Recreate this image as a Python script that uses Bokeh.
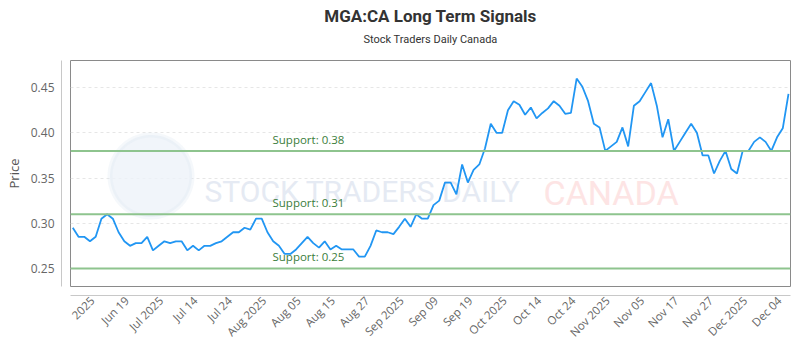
import math
import numpy as np
from bokeh.plotting import figure
from bokeh.models import (Range1d, FixedTicker, LinearAxis, Title, Label, Span,
                          PolyAnnotation, NumeralTickFormatter)
from bokeh.embed import file_html
from bokeh.resources import INLINE

# ---------------- data ----------------
prices = [
    0.295, 0.285, 0.285, 0.28, 0.285, 0.305, 0.31, 0.305, 0.29, 0.28,
    0.275, 0.278, 0.278, 0.285, 0.27, 0.275, 0.28, 0.278, 0.28, 0.28,
    0.27, 0.275, 0.27, 0.275, 0.275, 0.278, 0.28, 0.285, 0.29, 0.29,
    0.295, 0.293, 0.305, 0.305, 0.29, 0.28, 0.275, 0.266, 0.266, 0.271,
    0.278, 0.285, 0.278, 0.273, 0.28, 0.271, 0.275, 0.271, 0.271, 0.271,
    0.263, 0.263, 0.275, 0.292, 0.29, 0.29, 0.288, 0.296, 0.305, 0.296,
    0.31, 0.305, 0.305, 0.32, 0.325, 0.345, 0.345, 0.332, 0.365, 0.345,
    0.359, 0.365, 0.383, 0.41, 0.40, 0.40, 0.425, 0.435, 0.431, 0.42,
    0.428, 0.416, 0.422, 0.427, 0.435, 0.43, 0.421, 0.422, 0.46, 0.451,
    0.435, 0.41, 0.406, 0.38, 0.385, 0.39, 0.406, 0.385, 0.43, 0.435,
    0.445, 0.455, 0.43, 0.395, 0.415, 0.38, 0.39, 0.40, 0.41, 0.40,
    0.375, 0.375, 0.355, 0.369, 0.38, 0.36, 0.355, 0.38, 0.38, 0.39,
    0.395, 0.39, 0.38, 0.395, 0.405, 0.443,
]
support_levels = [0.38, 0.31, 0.25]
support_texts = ["Support: 0.38", "Support: 0.31", "Support: 0.25"]
tick_labels = ["2025", "Jun 19", "Jul 2025", "Jul 14", "Jul 24", "Aug 2025",
               "Aug 05", "Aug 15", "Aug 27", "Sep 2025", "Sep 09", "Sep 19",
               "Oct 2025", "Oct 14", "Oct 24", "Nov 2025", "Nov 05", "Nov 17",
               "Nov 27", "Dec 2025", "Dec 04"]
tick_first, tick_step = 3.4, 6
y_ticks = [0.25, 0.30, 0.35, 0.40, 0.45]

# ---------------- layout constants ----------------
W, H = 800, 350
FL, FR, FT, FB = 70, 790, 60, 286   # frame edges in px
x_idx = list(range(len(prices)))
x_start, x_end = -0.4, len(prices) - 1 + 0.35
y_start, y_end = 0.23, 0.48


def px_x(px):
    return x_start + (px - FL) / (FR - FL) * (x_end - x_start)


def px_y(py):
    return y_end - (py - FT) / (FB - FT) * (y_end - y_start)


p = figure(width=W, height=H, output_backend="svg", toolbar_location=None,
           x_range=Range1d(x_start, x_end), y_range=Range1d(y_start, y_end),
           min_border_left=FL, min_border_right=W - FR,
           min_border_top=FT, min_border_bottom=H - FB)
p.background_fill_color = "white"
p.border_fill_color = "white"
p.outline_line_color = "#8a8a8a"
p.outline_line_width = 1

# axes
yaxis = p.yaxis[0]
xaxis = p.xaxis[0]
tick_pos = [round(tick_first + i * tick_step, 2) for i in range(len(tick_labels))]
xaxis.ticker = FixedTicker(ticks=tick_pos)
xaxis.major_label_overrides = {t: lab for t, lab in zip(tick_pos, tick_labels)}
yaxis.ticker = FixedTicker(ticks=y_ticks)
yaxis.formatter = NumeralTickFormatter(format="0.00")

for ax in (xaxis, yaxis):
    ax.axis_line_color = "#c8c8c8"
    ax.axis_line_width = 1
    ax.major_tick_line_color = None
    ax.minor_tick_line_color = None
    ax.major_tick_out = 0
    ax.major_tick_in = 0
    ax.major_label_text_font = "Open Sans"
    ax.major_label_text_color = "#666666"

yaxis.major_label_text_font_size = "12px"
yaxis.major_label_standoff = 7
yaxis.axis_label = "Price"
yaxis.axis_label_text_font = "Open Sans"
yaxis.axis_label_text_font_size = "13px"
yaxis.axis_label_text_font_style = "normal"
yaxis.axis_label_text_color = "#555555"
yaxis.axis_label_standoff = 5

xaxis.major_label_text_font_size = "11.5px"
xaxis.major_label_orientation = math.pi / 4
xaxis.major_label_standoff = 3


def spacer(pos, gap=9):
    # an empty axis that only reserves a small gap next to the frame
    return LinearAxis(ticker=FixedTicker(ticks=[pos]),
                      major_label_overrides={pos: " "},
                      axis_line_color=None,
                      major_tick_line_color=None, minor_tick_line_color=None,
                      major_tick_out=gap, major_tick_in=0, minor_tick_out=0,
                      major_label_standoff=0, major_label_text_color=None,
                      major_label_text_font_size="1px")


p.left = [spacer(y_start), yaxis]
p.below = [spacer(x_start), xaxis]

# title & subtitle
p.title.text = "MGA:CA Long Term Signals"
p.title.align = "center"
p.title.text_font = "Roboto"
p.title.text_font_size = "17px"
p.title.text_font_style = "bold"
p.title.text_color = "#333333"
p.title.standoff = 2
sub = Title(text="Stock Traders Daily Canada", align="center",
            text_font="Roboto", text_font_size="11px",
            text_font_style="normal", text_color="#333333", standoff=9)
p.above = [spacer(x_start, gap=10), sub]

# grid
p.xgrid.visible = False
p.ygrid.grid_line_color = "#e6e6e6"
p.ygrid.grid_line_dash = "3 3"
p.ygrid.grid_line_width = 1

# watermark
cx, cy, r = 150.5, 175.5, 41
t = np.linspace(0, 2 * np.pi, 90)
p.add_layout(PolyAnnotation(xs=[px_x(cx + r * math.cos(a)) for a in t],
                            ys=[px_y(cy + r * math.sin(a)) for a in t],
                            fill_color="#edf2f9", fill_alpha=0.8,
                            line_color="#dfe7f3", line_width=5, level="underlay"))
p.add_layout(Label(x=px_x(204), y=px_y(191), text="STOCK TRADERS DAILY",
                   text_font="Roboto", text_font_size="30px",
                   text_color="#e5eaf3", text_baseline="alphabetic",
                   text_align="left", level="underlay"))
p.add_layout(Label(x=px_x(543), y=px_y(192), text="CANADA",
                   text_font="Roboto", text_font_size="34px",
                   text_color="#fde4e4", text_baseline="alphabetic",
                   text_align="left", level="underlay"))

# support lines
for lvl, txt in zip(support_levels, support_texts):
    p.add_layout(Span(location=lvl, dimension="width", line_color="#8ec48e",
                      line_width=2))
    p.add_layout(Label(x=px_x(272), y=lvl, y_offset=4, text=txt,
                       text_font="Open Sans", text_font_size="11.5px",
                       text_color="#3b7d3b", text_baseline="bottom",
                       text_align="left"))

# price line
p.line(x_idx, prices, line_color="#2196f3", line_width=1.8)

open("out.html", "w").write(file_html(p, INLINE))
